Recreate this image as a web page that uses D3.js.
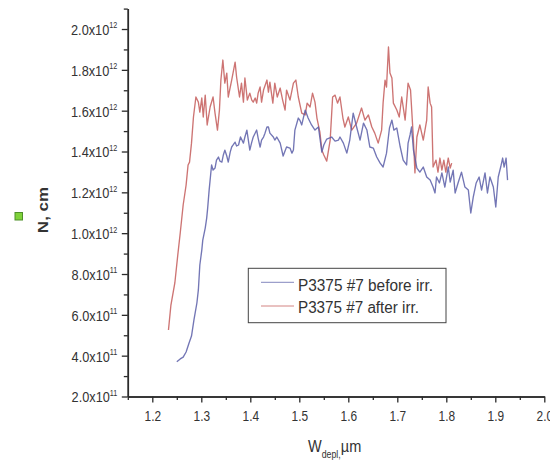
<!DOCTYPE html>
<html>
<head>
<meta charset="utf-8">
<script src="https://cdn.jsdelivr.net/npm/d3@7"></script>
<style>
  html, body { margin: 0; padding: 0; background: #fff; }
  svg { display: block; }
  text { font-family: "Liberation Sans", Arial, sans-serif; fill: #333; }
</style>
</head>
<body>
<svg id="chart" width="550" height="461"></svg>
<script>
// ---- data (N in units of 1e12 cm^-3, W in µm) ----
const wBefore = [1.250,1.257,1.263,1.269,1.275,1.280,1.285,1.291,1.294,1.297,
1.301,1.303,1.308,1.311,1.313,1.316,1.319,1.321,1.324,1.328,
1.331,1.335,1.338,1.342,1.345,1.348,1.352,1.355,1.359,1.362,
1.365,1.369,1.372,1.376,1.380,1.386,1.389,1.393,1.396,1.399,
1.403,1.406,1.413,1.416,1.420,1.423,1.427,1.430,1.434,1.437,
1.440,1.447,1.450,1.454,1.461,1.467,1.474,1.481,1.485,1.488,
1.491,1.498,1.501,1.505,1.512,1.518,1.525,1.532,1.539,1.546,
1.550,1.556,1.566,1.573,1.580,1.583,1.590,1.597,1.603,1.610,
1.617,1.624,1.631,1.638,1.644,1.651,1.658,1.665,1.671,1.678,
1.684,1.689,1.693,1.699,1.706,1.712,1.719,1.722,1.726,1.729,
1.733,1.740,1.746,1.753,1.760,1.767,1.773,1.777,1.780,1.786,
1.791,1.797,1.804,1.808,1.814,1.818,1.824,1.831,1.838,1.845,
1.850,1.855,1.861,1.867,1.872,1.879,1.884,1.889,1.896,1.901,
1.906,1.911,1.915,1.918,1.922,1.925];
const nBefore = [0.370,0.384,0.393,0.418,0.462,0.496,0.575,0.658,0.722,0.844,
0.917,0.966,1.025,1.074,1.123,1.211,1.285,1.334,1.309,1.319,
1.358,1.373,1.353,1.348,1.383,1.407,1.378,1.348,1.397,1.422,
1.432,1.446,1.427,1.432,1.471,1.441,1.471,1.505,1.456,1.407,
1.446,1.471,1.505,1.466,1.422,1.456,1.471,1.490,1.520,1.520,
1.490,1.471,1.456,1.471,1.441,1.378,1.422,1.417,1.392,1.407,
1.505,1.564,1.554,1.530,1.603,1.564,1.530,1.505,1.520,1.397,
1.432,1.461,1.471,1.451,1.456,1.471,1.441,1.392,1.456,1.588,
1.520,1.456,1.539,1.505,1.422,1.417,1.373,1.343,1.324,1.392,
1.515,1.554,1.505,1.515,1.422,1.358,1.334,1.441,1.481,1.520,
1.407,1.319,1.299,1.324,1.275,1.260,1.226,1.197,1.275,1.246,
1.295,1.226,1.324,1.250,1.309,1.197,1.246,1.299,1.226,1.211,
1.099,1.177,1.246,1.275,1.211,1.295,1.197,1.275,1.226,1.128,
1.275,1.324,1.368,1.324,1.368,1.260];

const wAfter = [1.233,1.238,1.246,1.252,1.257,1.263,1.269,1.273,1.276,1.280,
1.284,1.289,1.294,1.297,1.301,1.304,1.308,1.312,1.318,1.324,
1.328,1.333,1.337,1.340,1.344,1.348,1.352,1.355,1.362,1.369,
1.372,1.378,1.382,1.386,1.389,1.394,1.399,1.403,1.406,1.410,
1.413,1.416,1.420,1.423,1.427,1.434,1.437,1.440,1.446,1.450,
1.455,1.461,1.466,1.471,1.474,1.481,1.488,1.493,1.498,1.505,
1.512,1.516,1.522,1.527,1.532,1.536,1.542,1.546,1.550,1.556,
1.563,1.568,1.573,1.578,1.583,1.589,1.593,1.600,1.607,1.617,
1.627,1.634,1.641,1.648,1.654,1.661,1.668,1.671,1.675,1.678,
1.682,1.685,1.689,1.692,1.699,1.704,1.709,1.716,1.722,1.727,
1.733,1.736,1.740,1.746,1.753,1.760,1.763,1.767,1.770,1.773,
1.779,1.783,1.787,1.791,1.795,1.799,1.804,1.808,1.811];
const nAfter = [0.526,0.648,0.756,0.893,1.001,1.138,1.236,1.334,1.348,1.441,
1.569,1.667,1.642,1.593,1.662,1.569,1.676,1.530,1.618,1.667,
1.588,1.505,1.603,1.750,1.848,1.735,1.784,1.667,1.750,1.838,
1.765,1.667,1.735,1.642,1.760,1.652,1.686,1.652,1.642,1.662,
1.637,1.686,1.716,1.642,1.701,1.750,1.691,1.740,1.637,1.735,
1.667,1.711,1.652,1.603,1.701,1.652,1.735,1.750,1.667,1.588,
1.579,1.637,1.618,1.686,1.642,1.564,1.495,1.407,1.383,1.353,
1.456,1.667,1.676,1.637,1.667,1.564,1.520,1.569,1.505,1.539,
1.613,1.554,1.579,1.520,1.490,1.441,1.505,1.637,1.750,1.716,
1.912,1.784,1.760,1.637,1.603,1.569,1.667,1.554,1.735,1.701,
1.456,1.295,1.471,1.530,1.456,1.554,1.716,1.637,1.618,1.324,
1.358,1.299,1.368,1.309,1.358,1.299,1.368,1.319,1.343];

const seriesNames = ["P3375 #7 before irr.", "P3375 #7 after irr."];
const xTicks = [1.2,1.3,1.4,1.5,1.6,1.7,1.8,1.9,2.0];
const xMinorTicks = [1.15,1.25,1.35,1.45,1.55,1.65,1.75,1.85,1.95];
const yTicks = [0.2,0.4,0.6,0.8,1.0,1.2,1.4,1.6,1.8,2.0];
const yTickMantissa = ["2.0","4.0","6.0","8.0","1.0","1.2","1.4","1.6","1.8","2.0"];
const yTickExponent = ["11","11","11","11","12","12","12","12","12","12"];
const yMinorTicks = [0.3,0.5,0.7,0.9,1.1,1.3,1.5,1.7,1.9,2.1];

// ---- layout ----
const svg = d3.select("#chart");
const X0 = 127.8, X1 = 544.3, Y0 = 396.5, YTOP = 8.6;
const SQ = 0.85; // horizontal squeeze of glyphs

const x = d3.scaleLinear().domain([1.15, 2.0]).range([X0, X1]);
const y = d3.scaleLinear().domain([0.2, 2.1]).range([Y0, YTOP]);

const axisColor = "#2b2b2b";

// minor ticks
const gxm = svg.append("g").attr("transform", `translate(0,${Y0})`)
  .call(d3.axisBottom(x).tickValues(xMinorTicks).tickSize(3.5).tickSizeOuter(0).tickFormat(""));
const gym = svg.append("g").attr("transform", `translate(${X0},0)`)
  .call(d3.axisLeft(y).tickValues(yMinorTicks).tickSize(4).tickSizeOuter(0).tickFormat(""));

// major axes
const gx = svg.append("g").attr("transform", `translate(0,${Y0})`)
  .call(d3.axisBottom(x).tickValues(xTicks).tickSize(6).tickSizeOuter(0).tickFormat(d3.format(".1f")));
const gy = svg.append("g").attr("transform", `translate(${X0},0)`)
  .call(d3.axisLeft(y).tickValues(yTicks).tickSize(6).tickSizeOuter(0).tickFormat((d, i) => yTickMantissa[i] + "x10"));

[gxm, gym, gx, gy].forEach(g => {
  g.selectAll("path.domain").attr("stroke", axisColor).attr("stroke-width", 1.5);
  g.selectAll(".tick line").attr("stroke", axisColor).attr("stroke-width", 1.3);
});

gx.selectAll(".tick text")
  .attr("y", 25).attr("dy", null)
  .attr("font-size", 14)
  .attr("transform", `scale(${SQ},1)`)
  .style("font-family", "'Liberation Sans', Arial, sans-serif")
  .attr("fill", "#333");

gy.selectAll(".tick text").each(function(d, i) {
  const t = d3.select(this);
  t.attr("x", -10.5 / SQ).attr("y", 5.4).attr("dy", null)
   .attr("font-size", 15)
   .attr("transform", `scale(${SQ},1)`)
   .attr("fill", "#333")
   .style("font-family", "'Liberation Sans', Arial, sans-serif");
  t.append("tspan").attr("dy", -6.5).attr("font-size", 8.5).text(yTickExponent[i]);
});

// ---- lines ----
const line = d3.line().x(d => x(d[0])).y(d => y(d[1]));
const afterPts = wAfter.map((w, i) => [w, nAfter[i]]);
const beforePts = wBefore.map((w, i) => [w, nBefore[i]]);
const colors = ["#5a5ea8", "#c45c5a"];

svg.append("path").datum(afterPts).attr("d", line)
  .attr("fill", "none").attr("stroke", colors[1]).attr("stroke-width", 1.35)
  .attr("stroke-linejoin", "round").attr("stroke-opacity", 0.85);
svg.append("path").datum(beforePts).attr("d", line)
  .attr("fill", "none").attr("stroke", colors[0]).attr("stroke-width", 1.35)
  .attr("stroke-linejoin", "round").attr("stroke-opacity", 0.85);

// ---- legend ----
const lg = svg.append("g");
lg.append("rect").attr("x", 248.3).attr("y", 268.3).attr("width", 197.7).attr("height", 54.4)
  .attr("fill", "#fff").attr("stroke", "#444").attr("stroke-width", 1);
const legendRows = [{y: 282.3, base: 290.5, len: 135}, {y: 306, base: 312.7, len: 121}];
legendRows.forEach((r, i) => {
  lg.append("line").attr("x1", 261).attr("x2", 294).attr("y1", r.y).attr("y2", r.y)
    .attr("stroke", colors[i]).attr("stroke-width", 1).attr("stroke-opacity", 0.75);
  lg.append("text").attr("x", 298).attr("y", r.base).attr("font-size", 16)
    .attr("textLength", r.len).attr("lengthAdjust", "spacingAndGlyphs")
    .attr("fill", "#222").text(seriesNames[i]);
});

// ---- axis titles ----
const xt = svg.append("text").attr("transform", `translate(308,451.5) scale(0.88,1)`)
  .attr("font-size", 16.5).attr("fill", "#333");
xt.append("tspan").text("W");
xt.append("tspan").attr("font-size", 10).attr("dy", 6.5).text("depl,");
xt.append("tspan").attr("dy", -6.5).text("\u00B5m");

svg.append("text").attr("transform", "translate(48,210) rotate(-90) scale(1,0.85)")
  .attr("text-anchor", "middle").attr("font-size", 17).attr("font-weight", "bold")
  .attr("fill", "#333").text("N, cm");

// small green marker at left
svg.append("rect").attr("x", 15).attr("y", 212.5).attr("width", 7.5).attr("height", 7.5)
  .attr("fill", "#7fd23a").attr("stroke", "#4f8f2a").attr("stroke-width", 1);
</script>
</body>
</html>
